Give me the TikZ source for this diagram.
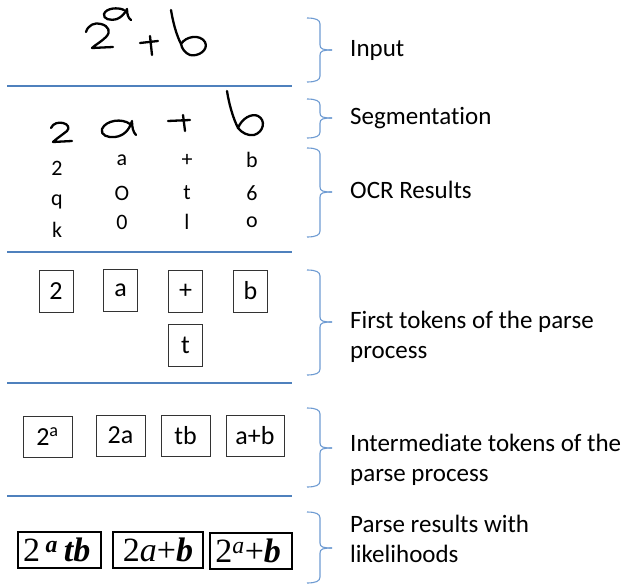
\documentclass[tikz,border=0pt]{standalone}
\usepackage{fontspec}
\setmainfont{Carlito}[Ligatures=CommonOff]
\newfontfamily\eqfont{Liberation Serif}
\definecolor{sepblue}{RGB}{79,129,189}
\definecolor{braceblue}{RGB}{110,155,210}
\tikzset{
  token/.style={draw=black!80, line width=0.8pt, minimum width=34pt, minimum height=42pt, inner sep=0pt, font=\fontsize{26}{30}\selectfont},
  midtoken/.style={token, minimum width=49pt, minimum height=41pt},
  result/.style={draw, line width=2pt, minimum height=36pt, inner sep=0pt, font=\eqfont\fontsize{34}{38}\selectfont},
  ocr/.style={font=\fontsize{22}{26}\selectfont},
  sidetext/.style={anchor=west, align=left, inner sep=0pt, font=\fontsize{25}{30}\selectfont},
  stroke/.style={line width=2.3pt, line cap=round, line join=round},
  sep/.style={sepblue, line width=1.2pt},
  bracket/.style={braceblue, line width=1.1pt}
}
% right brace: top, tip, bottom
\newcommand{\sidebrace}[3]{%
  \draw[bracket] (307,#1) .. controls (316,#1) and (320,#1+2) .. (320,#1+6) -- (320,#2-5)
    .. controls (320,#2-1) and (323,#2) .. (332,#2);
  \draw[bracket] (307,#3) .. controls (316,#3) and (320,#3-2) .. (320,#3-6) -- (320,#2+5)
    .. controls (320,#2+1) and (323,#2) .. (332,#2);}
\begin{document}
\begin{tikzpicture}[x=1pt,y=-1pt]
  \useasboundingbox (0,0) rectangle (631,586);
  % handwritten input
  \draw[stroke] (86,32) .. controls (88,25) and (95,22) .. (101,24) .. controls (109,26) and (111,32) .. (106,37)
    .. controls (101,42) and (95,45) .. (92,48) -- (113,47);
  \draw[stroke] (124,10) .. controls (118,7) and (106,8) .. (104,14) .. controls (103,19) and (110,21) .. (117,19)
    .. controls (122,17) and (125,13) .. (127,9) .. controls (127,14) and (128,18) .. (131,20);
  \draw[stroke] (140,43) -- (158,41) (150,36) -- (152,55);
  \draw[stroke] (171,10) .. controls (173,22) and (176,34) .. (181,44)
    .. controls (186,36) and (200,34) .. (205,42) .. controls (209,50) and (198,57) .. (190,55)
    .. controls (185,53) and (182,49) .. (181,44);
  % segmented symbols
  \draw[stroke] (51,128) .. controls (53,123) and (59,122) .. (63,123) .. controls (68,124) and (70,128) .. (67,131)
    .. controls (62,135) and (56,139) .. (53,142) -- (72,141);
  \draw[stroke] (130,124) .. controls (122,118) and (106,120) .. (102,129) .. controls (100,135) and (108,138) .. (115,137)
    .. controls (123,136) and (129,131) .. (132,121) .. controls (132,127) and (133,132) .. (136,135);
  \draw[stroke] (168,121) -- (190,120) (183,115) -- (185,131);
  \draw[stroke] (227,91) .. controls (229,104) and (233,118) .. (238,128)
    .. controls (242,118) and (252,113) .. (258,116) .. controls (266,120) and (264,132) .. (254,135)
    .. controls (248,136) and (242,133) .. (238,128);
  % OCR candidates
  \node[ocr] (ocr11) at (57,168) {2};
  \node[ocr] (ocr12) at (57,202) {q};
  \node[ocr] (ocr13) at (57,230) {k};
  \foreach \col/\x/\p/\q/\r in {2/122/a/O/0, 3/187/+/t/l, 4/252/b/6/o}{
    \node[ocr] (ocr\col1) at (\x,160) {\p};
    \node[ocr] (ocr\col2) at (\x,193) {\q};
    \node[ocr] (ocr\col3) at (\x,222) {\r};
  }
  % first tokens
  \node[token] (two) at (56,291) {2};
  \node[token] (aa) at (120.5,290) {a};
  \node[token] (plus) at (185.5,291) {+};
  \node[token] (bb) at (250.5,291) {b};
  \node[token] (tt) at (185.5,345.5) {t};
  % intermediate tokens
  \node[midtoken] (twosup) at (47.5,436.5) {2\textsuperscript{a}};
  \node[midtoken] (twoa) at (120.5,435.5) {2a};
  \node[midtoken] (tb) at (185.5,435.5) {tb};
  \node[midtoken, minimum width=58pt] (apb) at (255,435.5) {a+b};
  % parse results
  \node[result, minimum width=83pt] (res1) at (59.5,550) {2\,\textsuperscript{\textbf{\textit{a}}}\,\textbf{\textit{tb}}\,};
  \node[result, minimum width=90pt] (res2) at (158,550) {2\textit{a}+\textbf{\textit{b}}};
  \node[result, minimum width=82pt] (res3) at (251,551) {2\textsuperscript{\textit{a}}+\textbf{\textit{b}}\,};
  % separators
  \foreach \y in {86,252,383,496}
    \draw[sep] (7,\y) -- (292,\y);
  % braces and captions
  \sidebrace{18}{50}{82}
  \sidebrace{99}{118}{138}
  \sidebrace{148}{192}{237}
  \sidebrace{270}{322}{375}
  \sidebrace{408}{448}{487}
  \sidebrace{512}{548}{583}
  \node[sidetext] (input) at (350,50) {Input};
  \node[sidetext] (segm) at (350,118) {Segmentation};
  \node[sidetext] (ocrres) at (350,190) {OCR Results};
  \node[sidetext] (first) at (350,337) {First tokens of the parse\\process};
  \node[sidetext] (inter) at (350,460) {Intermediate tokens of the\\parse process};
  \node[sidetext] (parse) at (350,539) {Parse results with\\likelihoods};
\end{tikzpicture}
\end{document}
